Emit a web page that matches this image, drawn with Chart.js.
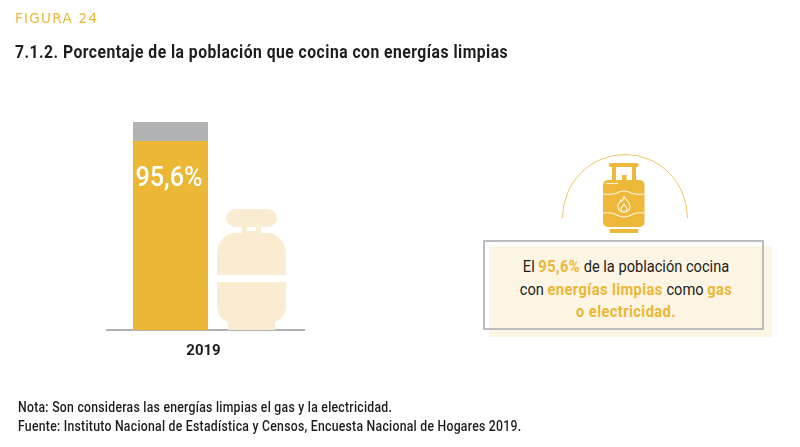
<!DOCTYPE html>
<html lang="es">
<head>
<meta charset="utf-8">
<title>Figura 24</title>
<script src="https://cdn.jsdelivr.net/npm/chart.js@4"></script>
<style>
  html, body { margin: 0; padding: 0; background: #fff; }
  #page { position: relative; width: 800px; height: 447px; overflow: hidden; font-family: Roboto, sans-serif; color: #1d1d1b; }
  #page > * { position: absolute; }
  #figura { left: 15px; top: 10px; font-family: "DejaVu Sans", sans-serif; font-size: 13.5px; letter-spacing: 1.3px; color: #e8b838; }
  /* the original type is condensed, none is installed so the text gets squeezed */
  #titulo { left: 15px; top: 41px; font-size: 18.5px; font-weight: bold; letter-spacing: 0.55px; white-space: nowrap; transform: scaleX(0.85); transform-origin: left; }
  #sombra { left: 489px; top: 246px; width: 283px; height: 91px; background: #fdf5e4; }
  #marco { left: 483px; top: 240px; width: 277px; height: 86px; border: 2px solid #bcbdbf; }
  #mensaje { left: 491px; top: 255px; width: 270px; text-align: center; font-size: 17px; line-height: 22.5px; white-space: nowrap; transform: scaleX(0.86); }
  #mensaje b { color: #ebb735; letter-spacing: 0.5px; }
  #notas { left: 18px; top: 399px; font-size: 14.5px; font-weight: 500; line-height: 18.5px; letter-spacing: 0.3px; white-space: nowrap; transform: scaleX(0.845); transform-origin: left; }
</style>
</head>
<body>
<div id="page">
  <canvas id="chart" width="800" height="447" style="left:0;top:0"></canvas>
  <div id="figura">FIGURA 24</div>
  <div id="titulo">7.1.2. Porcentaje de la población que cocina con energías limpias</div>

  <!-- big pale cylinder next to the bar -->
  <svg style="left:210px;top:205px" width="84" height="125" viewBox="210 205 84 125">
    <g fill="#f9ecd1">
      <rect x="226" y="209" width="51" height="18" rx="9"/>
      <rect x="242" y="227" width="5" height="8"/>
      <rect x="256" y="227" width="5" height="8"/>
      <rect x="247" y="231" width="9" height="4"/>
      <path d="M232 233H271Q286 238 286 256V275H217V256Q217 238 232 233Z"/>
      <path d="M217 282H286V305Q286 318 275 322V330H228V322Q217 318 217 305Z"/>
    </g>
  </svg>

  <!-- arc and small gas icon -->
  <svg style="left:555px;top:150px" width="140" height="90" viewBox="555 150 140 90">
    <path d="M562.5 218A62.5 63.5 0 0 1 687.5 218" fill="none" stroke="#eec565" stroke-width="1"/>
    <g fill="#eeb93a">
      <rect x="609" y="163" width="29.5" height="4" rx="1.5"/>
      <rect x="612" y="167" width="4" height="13"/>
      <rect x="632" y="167" width="4" height="13"/>
      <rect x="622" y="175" width="4.5" height="5"/>
      <rect x="603" y="180" width="41.5" height="47" rx="5"/>
      <rect x="610" y="229" width="28" height="4"/>
    </g>
    <g fill="none" stroke="#fdf3d9" stroke-width="1.2">
      <path d="M603 194Q612 195 617 193Q624 189 631 193Q636 195 644.5 194"/>
      <path d="M603 213Q612 212 617 215Q624 219 631 215Q636 212 644.5 213"/>
      <path d="M624 196C625 200 630 202 630 206C630 210 627 212 624 212C621 212 618 210 618 206C618 203 620 202 621 200C622 202 623 201 624 196Z"/>
      <path d="M624 204C625 206 627 207 627 209C627 211 625 212 624 212C623 212 621 211 621 209C621 207 623 206 624 204Z"/>
    </g>
    <rect x="606" y="183" width="12" height="1" fill="#fdf3d9"/>
  </svg>

  <div id="sombra"></div>
  <div id="marco"></div>
  <div id="mensaje">El <b>95,6%</b> de la población cocina<br>con <b>energías limpias</b> como <b>gas</b><br><b>o electricidad.</b></div>
  <div id="notas">Nota: Son consideras las energías limpias el gas y la electricidad.<br>Fuente: Instituto Nacional de Estadística y Censos, Encuesta Nacional de Hogares 2019.</div>
</div>
<script>
const categories = ["2019"];
//Yellow part, as printed on the bar
const limpias = [95.6];
//Grey cap as drawn in the picture (it is taller than the 4.4 left to 100)
const resto = [9.6];
//Empty series, keeps the right half of the axis free for the cylinder
const espacio = [null];

//Writes the value inside the yellow bar
const valueLabel = {
  id: "valueLabel",
  afterDatasetsDraw(chart) {
    const bar = chart.getDatasetMeta(0).data[0];
    const ctx = chart.ctx;
    ctx.save();
    ctx.fillStyle = "#ffffff";
    ctx.font = "500 28px Roboto, sans-serif";
    ctx.textAlign = "center";
    ctx.textBaseline = "middle";
    //same squeeze as the html text
    ctx.translate(bar.x - 1.5, bar.y + 38);
    ctx.scale(0.9, 1);
    ctx.fillText(limpias[0].toString().replace(".", ",") + "%", 0, 0);
    ctx.restore();
  },
};

new Chart(document.getElementById("chart"), {
  type: "bar",
  plugins: [valueLabel],
  data: {
    labels: categories,
    datasets: [
      { data: limpias, backgroundColor: "#ebb735", stack: "a" },
      { data: resto, backgroundColor: "#b1b2b4", stack: "a" },
      { data: espacio, backgroundColor: "transparent", stack: "b" },
    ],
  },
  options: {
    responsive: false,
    animation: false,
    layout: { padding: { left: 107, right: 496, top: 122, bottom: 0 } },
    //two stacks of 70px each, bar a bit wider than its slot
    datasets: { bar: { categoryPercentage: 140 / 197, barPercentage: 75 / 70 } },
    plugins: { legend: { display: false }, tooltip: { enabled: false } },
    scales: {
      x: {
        stacked: true,
        grid: { display: false },
        border: { color: "#b1b2b4", width: 2 },
        ticks: {
          color: "#1d1d1b",
          padding: 4,
          labelOffset: -2,
          font: { family: "Roboto, sans-serif", size: 15, weight: "bold" },
        },
        afterFit(scale) { scale.height = 117; },
      },
      y: { display: false, stacked: true, min: 0, max: limpias[0] + resto[0] },
    },
  },
});
</script>
</body>
</html>
